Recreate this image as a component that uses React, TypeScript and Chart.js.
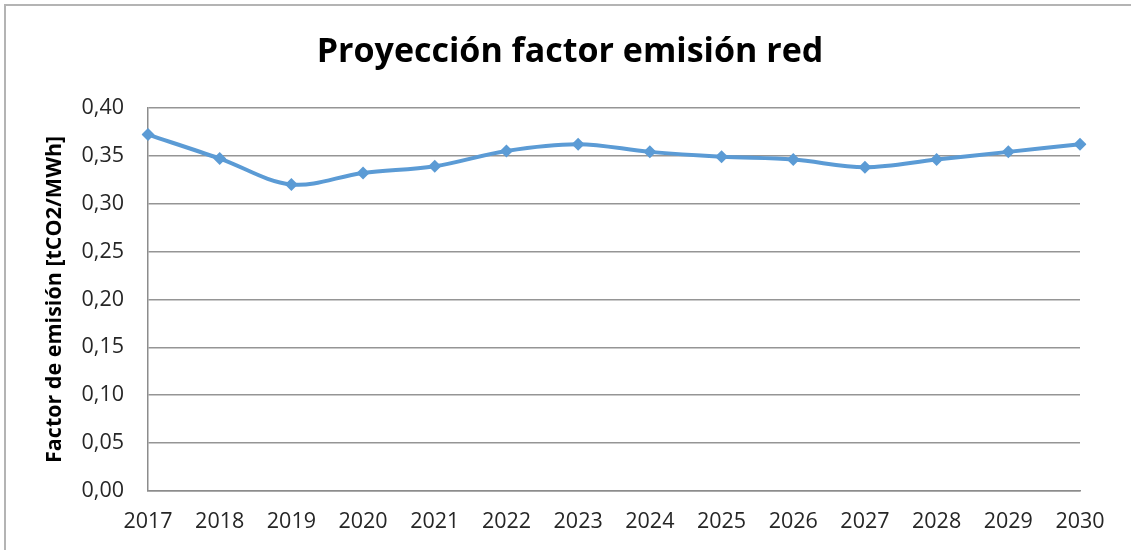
import React, { useEffect, useRef } from "react";
import { Chart, registerables } from "chart.js";

Chart.register(...registerables);

const years = ["2017", "2018", "2019", "2020", "2021", "2022", "2023", "2024", "2025", "2026", "2027", "2028", "2029", "2030"];
const factorEmision = [0.372, 0.347, 0.320, 0.332, 0.339, 0.355, 0.362, 0.354, 0.349, 0.346, 0.338, 0.346, 0.354, 0.362];
const chartTitle = "Proyección factor emisión red";
const yAxisTitle = "Factor de emisión [tCO2/MWh]";

const FONT = "'Open Sans', 'DejaVu Sans', sans-serif";

export default function App() {
  const ref = useRef<HTMLCanvasElement | null>(null);

  useEffect(() => {
    if (!ref.current) return;
    const chart = new Chart(ref.current, {
      type: "line",
      data: {
        labels: years,
        datasets: [
          {
            data: factorEmision,
            borderColor: "#5B9BD5",
            backgroundColor: "#5B9BD5",
            borderWidth: 4,
            tension: 0.35,
            pointStyle: "rectRot",
            pointRadius: 6.5,
            pointBorderWidth: 0,
            fill: false,
            yAxisID: "y",
          },
        ],
      },
      options: {
        animation: false,
        responsive: false,
        maintainAspectRatio: false,
        layout: { padding: { left: 9, right: 0, top: 0, bottom: 0 } },
        plugins: {
          legend: { display: false },
          tooltip: { enabled: false },
          title: {
            display: true,
            text: chartTitle,
            color: "#000000",
            font: { family: FONT, size: 34, weight: "bold", lineHeight: 1.2 },
            padding: { top: 32, bottom: 35 },
          },
        },
        scales: {
          x: {
            type: "category",
            offset: false,
            grid: { display: false, drawTicks: false },
            border: { display: true, color: "#8c8c8c", width: 1.5 },
            ticks: {
              color: "#262626",
              font: { family: FONT, size: 21.5 },
              padding: 18,
              maxRotation: 0,
              autoSkip: false,
            },
            afterFit: (scale: any) => {
              scale.height = 59;
            },
          },
          y: {
            position: "left",
            min: 0,
            max: 0.4,
            grid: { color: "#959595", lineWidth: 1.5, drawTicks: false },
            border: { display: true, color: "#8c8c8c", width: 1.5 },
            ticks: {
              stepSize: 0.05,
              color: "#262626",
              font: { family: FONT, size: 21.5 },
              padding: 24,
              callback: (v: any) => Number(v).toFixed(2).replace(".", ","),
            },
            title: {
              display: true,
              text: yAxisTitle,
              color: "#000000",
              font: { family: FONT, size: 21.5, weight: "bold", lineHeight: 1.2 },
              padding: { top: 33, bottom: 0 },
            },
            afterFit: (scale: any) => {
              scale.width = 139;
            },
          },
          yRight: {
            position: "right",
            display: true,
            min: 0,
            max: 0.4,
            grid: { display: false, drawTicks: false },
            border: { display: false },
            ticks: { display: false },
            afterFit: (scale: any) => {
              scale.width = 51;
            },
          },
        },
      },
    });
    return () => chart.destroy();
  }, []);

  return (
    <div
      style={{
        position: "fixed",
        left: 0,
        top: 0,
        width: 1131,
        height: 550,
        overflow: "hidden",
        background: "#ffffff",
      }}
    >
      <div
        style={{
          position: "absolute",
          left: 4,
          top: 4,
          width: 1127,
          height: 546,
          borderLeft: "2px solid #b4b4b4",
          borderTop: "2px solid #b4b4b4",
        }}
      />
      <canvas ref={ref} width={1131} height={550} style={{ position: "absolute", left: 0, top: 0 }} />
    </div>
  );
}
